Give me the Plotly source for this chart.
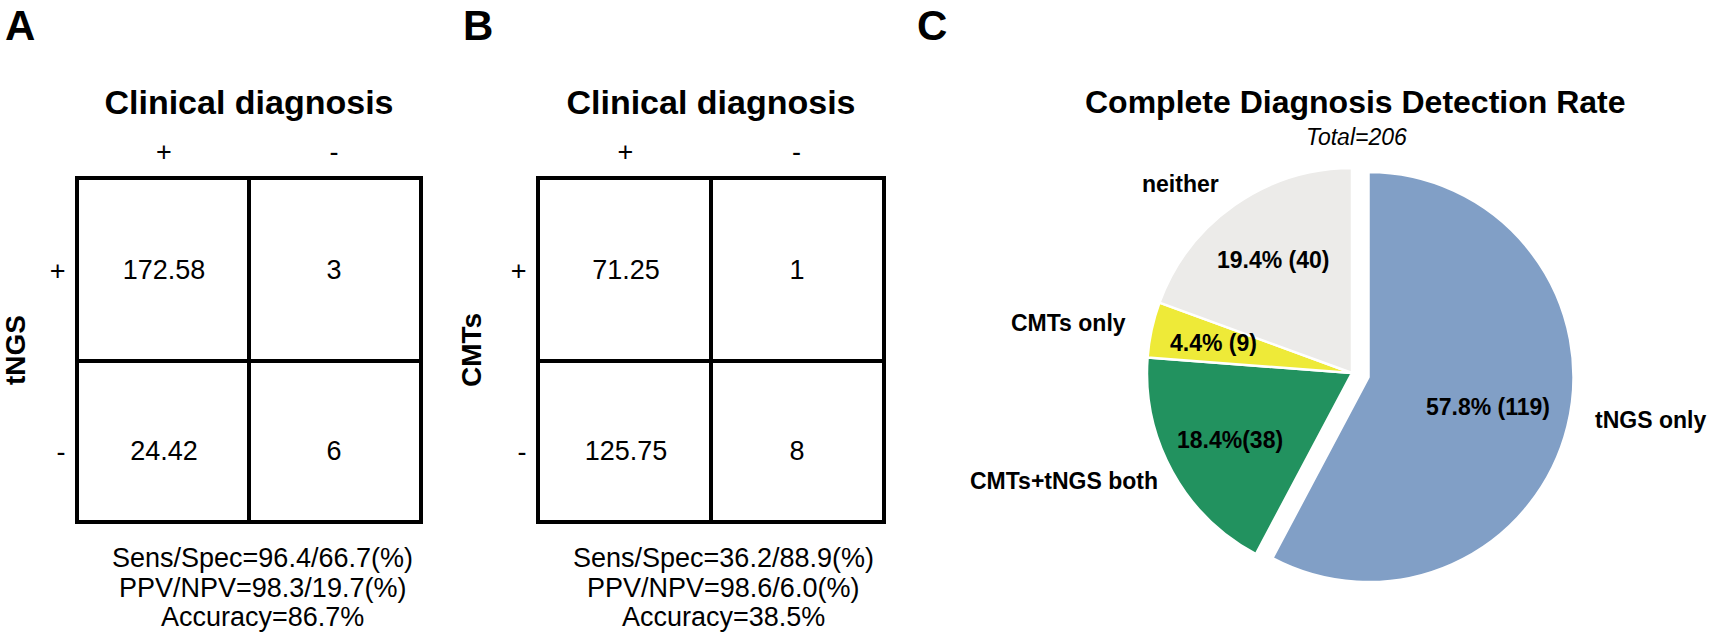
import plotly.graph_objects as go
import numpy as np

# ---------------- data ----------------
col_labels = ["+", "-"]                 # Clinical diagnosis
row_labels = ["+", "-"]                 # test result
tngs_matrix = [[172.58, 3], [24.42, 6]]  # rows: tNGS +/-, cols: clinical +/-
cmts_matrix = [[71.25, 1], [125.75, 8]]  # rows: CMTs +/-, cols: clinical +/-
tngs_stats = ["Sens/Spec=96.4/66.7(%)", "PPV/NPV=98.3/19.7(%)", "Accuracy=86.7%"]
cmts_stats = ["Sens/Spec=36.2/88.9(%)", "PPV/NPV=98.6/6.0(%)", "Accuracy=38.5%"]

pie_labels = ["tNGS only", "CMTs+tNGS both", "CMTs only", "neither"]
pie_counts = [119, 38, 9, 40]
pie_text = ["57.8% (119)", "18.4%(38)", "4.4% (9)", "19.4% (40)"]
pie_total = 206

# ---------------- style ----------------
W, H = 1712, 635
FONT = "Liberation Sans, Arial, sans-serif"
pie_colors = ["#819FC6", "#22925F", "#EEEA38", "#ECEBE9"]
PULL = [0.083, 0, 0, 0]


def fx(px):
    return px / W


def fy(py):
    return 1 - py / H


fig = go.Figure()


def add_matrix(matrix, xa, ya, x0, x1, y0, y1, ytitle):
    z = [matrix[1], matrix[0]]  # bottom row first
    txt = [[f"{v:g}" for v in row] for row in z]
    fig.add_trace(go.Heatmap(
        z=z, x=[0, 1], y=[0, 1], text=txt, texttemplate="%{text}",
        textfont=dict(family=FONT, size=27, color="black"),
        colorscale=[[0, "rgba(255,255,255,0)"], [1, "rgba(255,255,255,0)"]],
        showscale=False, hoverinfo="skip", xaxis=xa, yaxis=ya))
    axcommon = dict(showline=True, mirror=True, linewidth=4, linecolor="black",
                    showgrid=False, zeroline=False, ticks="", automargin=False,
                    tickfont=dict(family=FONT, size=27, color="black"),
                    minor=dict(tickmode="array", tickvals=[0.5], showgrid=True,
                               gridcolor="black", gridwidth=4, ticks=""))
    xkey = "xaxis" + xa[1:]
    ykey = "yaxis" + ya[1:]
    fig.update_layout(**{
        xkey: dict(domain=[fx(x0), fx(x1)], range=[-0.5, 1.5], side="top",
                   tickmode="array", tickvals=[0, 1], ticktext=col_labels,
                   anchor=ya, ticklabelstandoff=4,
                   title=dict(text="<b>Clinical diagnosis</b>", standoff=13,
                              font=dict(family=FONT, size=34, color="black")),
                   **axcommon),
        ykey: dict(domain=[fy(y1), fy(y0)], range=[-0.38, 1.5],
                   tickmode="array", tickvals=[1, 0], ticktext=row_labels,
                   anchor=xa, ticklabelstandoff=4,
                   title=dict(text=f"<b>{ytitle}</b>", standoff=22,
                              font=dict(family=FONT, size=28, color="black")),
                   **axcommon),
    })


add_matrix(tngs_matrix, "x", "y", 79, 419, 180, 520, "tNGS")
add_matrix(cmts_matrix, "x2", "y2", 540, 882, 180, 520, "CMTs")

annotations = []


def ann(text, px, py, size, bold=False, italic=False, xanchor="center", yanchor="middle"):
    t = text
    if bold:
        t = f"<b>{t}</b>"
    if italic:
        t = f"<i>{t}</i>"
    annotations.append(dict(text=t, x=fx(px), y=fy(py), xref="paper", yref="paper",
                            showarrow=False, xanchor=xanchor, yanchor=yanchor,
                            font=dict(family=FONT, size=size, color="black")))


# stats text
for i, line in enumerate(tngs_stats):
    ann(line, 262, 558 + i * 29.5, 27)
for i, line in enumerate(cmts_stats):
    ann(line, 723, 558 + i * 29.5, 27)

# panel letters
ann("A", 20, 0, 42, bold=True, yanchor="top")
ann("B", 478, 0, 42, bold=True, yanchor="top")
ann("C", 932, 0, 42, bold=True, yanchor="top")

# ---------------- pie ----------------
CX, CY, D = 1352, 373, 444
fig.add_trace(go.Pie(
    labels=pie_labels, values=pie_counts, sort=False, direction="clockwise",
    rotation=0, pull=PULL, textinfo="none", hoverinfo="skip", showlegend=False,
    marker=dict(colors=pie_colors, line=dict(color="white", width=2.5)),
    domain=dict(x=[fx(CX - D / 2), fx(CX + D / 2)], y=[fy(CY + D / 2), fy(CY - D / 2)])))

R = D / (2 + 2 * max(PULL))
label_r = [0.6, 0.68, 0.69, 0.67]
cum = np.cumsum([0] + pie_counts)
for i, t in enumerate(pie_text):
    theta = np.deg2rad(360 * (cum[i] + pie_counts[i] / 2) / pie_total)
    dist = (label_r[i] + PULL[i]) * R
    ann(t, CX + dist * np.sin(theta), CY - dist * np.cos(theta), 23, bold=True)

ann("Complete Diagnosis Detection Rate", 1355, 102, 32, bold=True)
ann(f"Total={pie_total}", 1356, 137, 23, italic=True)

ann(pie_labels[3], 1180, 184, 23, bold=True)
ann(pie_labels[2], 1128, 323, 23, bold=True, xanchor="right")
ann(pie_labels[1], 1160, 481, 23, bold=True, xanchor="right")
ann(pie_labels[0], 1593, 420, 23, bold=True, xanchor="left")

fig.update_layout(width=W, height=H, margin=dict(l=0, r=0, t=0, b=0),
                  paper_bgcolor="white", plot_bgcolor="rgba(0,0,0,0)",
                  annotations=annotations, showlegend=False)

fig.write_html("out.html", config={"displayModeBar": False},
               post_script="document.body.style.margin='0';")
